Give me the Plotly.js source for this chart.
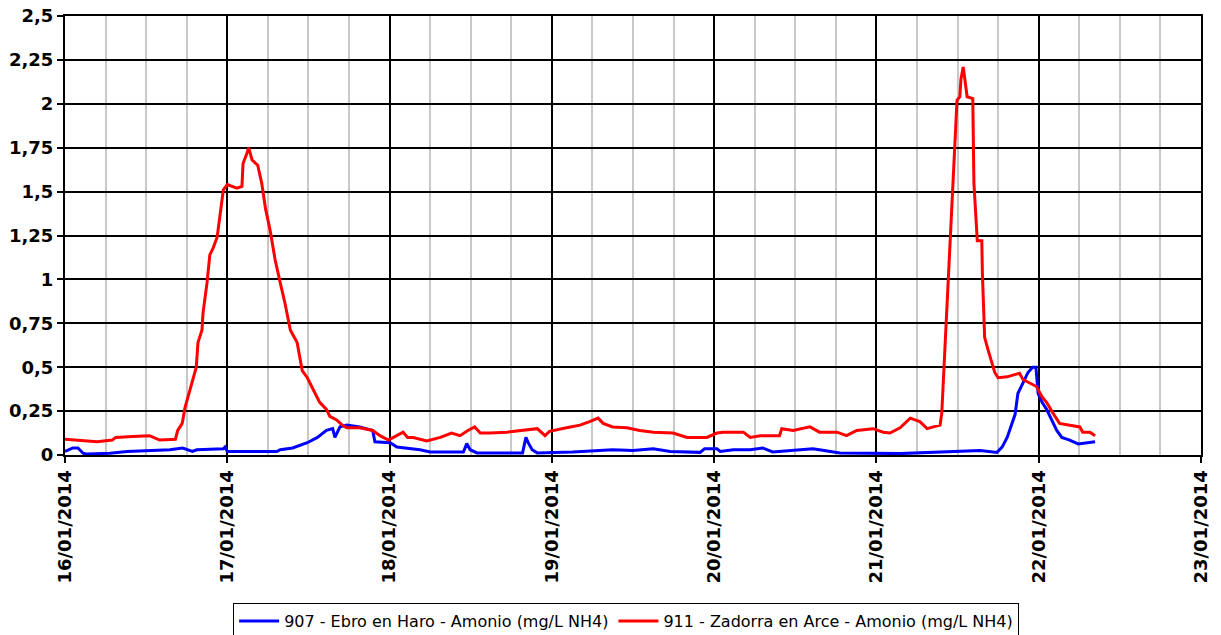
<!DOCTYPE html>
<html>
<head>
<meta charset="utf-8">
<script src="https://cdn.plot.ly/plotly-3.0.1.min.js"></script>
<style>html,body{margin:0;padding:0;background:#fff;}#chart{width:1221px;height:635px;}</style>
</head>
<body>
<div id="chart"></div>
<script>
// Series 907 - Ebro en Haro (blue)
const blueTimes = [
'2014-01-16 00:00','2014-01-16 01:10','2014-01-16 01:55','2014-01-16 02:40','2014-01-16 03:15','2014-01-16 06:40','2014-01-16 09:10','2014-01-16 15:30','2014-01-16 17:25','2014-01-16 18:50','2014-01-16 19:30','2014-01-16 23:25','2014-01-16 23:40','2014-01-17 00:00',
'2014-01-17 07:20','2014-01-17 07:50','2014-01-17 09:40','2014-01-17 11:50','2014-01-17 13:20','2014-01-17 14:40','2014-01-17 15:35','2014-01-17 15:55','2014-01-17 16:40','2014-01-17 17:40','2014-01-17 19:35','2014-01-17 21:30','2014-01-17 21:50',
'2014-01-18 00:05','2014-01-18 01:05','2014-01-18 02:35','2014-01-18 04:30','2014-01-18 06:00','2014-01-18 10:55','2014-01-18 11:25','2014-01-18 11:55','2014-01-18 12:55','2014-01-18 19:40','2014-01-18 20:10','2014-01-18 20:30','2014-01-18 21:05','2014-01-18 21:50',
'2014-01-19 03:05','2014-01-19 09:00','2014-01-19 12:00','2014-01-19 15:00','2014-01-19 17:30','2014-01-19 21:55','2014-01-19 22:35',
'2014-01-20 00:25','2014-01-20 00:55','2014-01-20 02:50','2014-01-20 05:20','2014-01-20 07:10','2014-01-20 08:40','2014-01-20 11:10','2014-01-20 14:35','2014-01-20 15:35','2014-01-20 18:35',
'2014-01-21 03:30','2014-01-21 15:20','2014-01-21 17:50','2014-01-21 18:35','2014-01-21 19:20','2014-01-21 20:00','2014-01-21 20:30','2014-01-21 20:55','2014-01-21 21:40','2014-01-21 22:25','2014-01-21 23:05','2014-01-21 23:35','2014-01-21 23:55',
'2014-01-22 00:30','2014-01-22 01:10','2014-01-22 01:55','2014-01-22 02:40','2014-01-22 03:25','2014-01-22 04:35','2014-01-22 05:50','2014-01-22 07:35','2014-01-22 08:20'
];
const blueValues = [
0.02,0.04,0.04,0.01,0.005,0.01,0.02,0.03,0.04,0.02,0.03,0.035,0.045,0.02,
0.02,0.03,0.04,0.07,0.10,0.14,0.15,0.10,0.16,0.17,0.16,0.14,0.075,
0.07,0.045,0.04,0.03,0.017,0.017,0.065,0.03,0.012,0.012,0.10,0.07,0.03,0.012,
0.017,0.03,0.025,0.035,0.02,0.015,0.035,
0.035,0.02,0.03,0.03,0.04,0.017,0.025,0.035,0.03,0.012,
0.008,0.025,0.015,0.045,0.10,0.18,0.23,0.35,0.41,0.47,0.50,0.50,0.35,
0.30,0.26,0.20,0.14,0.10,0.085,0.063,0.07,0.075
];
// Series 911 - Zadorra en Arce (red)
const redTimes = [
'2014-01-16 00:00','2014-01-16 04:45','2014-01-16 07:00','2014-01-16 07:30','2014-01-16 10:00','2014-01-16 12:30','2014-01-16 14:00','2014-01-16 16:20','2014-01-16 16:40','2014-01-16 17:20','2014-01-16 17:45','2014-01-16 18:30','2014-01-16 18:55','2014-01-16 19:25','2014-01-16 19:40','2014-01-16 20:15','2014-01-16 20:25','2014-01-16 21:00','2014-01-16 21:25','2014-01-16 21:55','2014-01-16 22:30','2014-01-16 22:55','2014-01-16 23:25',
'2014-01-17 00:00','2014-01-17 01:25','2014-01-17 02:10','2014-01-17 02:20','2014-01-17 02:55','2014-01-17 03:10','2014-01-17 03:40','2014-01-17 04:30','2014-01-17 05:05','2014-01-17 05:40','2014-01-17 06:20','2014-01-17 07:05','2014-01-17 07:50','2014-01-17 08:30','2014-01-17 09:20','2014-01-17 10:20','2014-01-17 11:05','2014-01-17 11:50','2014-01-17 13:00','2014-01-17 13:40','2014-01-17 14:40','2014-01-17 15:10','2014-01-17 16:10','2014-01-17 17:00','2014-01-17 17:40','2014-01-17 19:35','2014-01-17 21:30','2014-01-17 22:35','2014-01-17 23:50',
'2014-01-18 00:30','2014-01-18 01:05','2014-01-18 02:00','2014-01-18 02:40','2014-01-18 03:30','2014-01-18 05:30','2014-01-18 07:30','2014-01-18 09:10','2014-01-18 10:25','2014-01-18 11:35','2014-01-18 12:35','2014-01-18 13:25','2014-01-18 14:50','2014-01-18 17:25','2014-01-18 19:20','2014-01-18 21:50','2014-01-18 23:00','2014-01-18 23:40',
'2014-01-19 02:10','2014-01-19 04:10','2014-01-19 05:35','2014-01-19 06:50','2014-01-19 07:35','2014-01-19 09:00','2014-01-19 11:05','2014-01-19 13:00','2014-01-19 15:00','2014-01-19 17:55','2014-01-19 20:00','2014-01-19 22:55',
'2014-01-20 00:25','2014-01-20 01:20','2014-01-20 04:20','2014-01-20 05:20','2014-01-20 06:50','2014-01-20 09:40','2014-01-20 10:00','2014-01-20 11:40','2014-01-20 14:10','2014-01-20 15:35','2014-01-20 18:10','2014-01-20 19:35','2014-01-20 21:05','2014-01-20 23:30',
'2014-01-21 01:00','2014-01-21 02:00','2014-01-21 03:30','2014-01-21 05:00','2014-01-21 06:25','2014-01-21 07:30','2014-01-21 08:25','2014-01-21 09:25','2014-01-21 09:40','2014-01-21 09:50','2014-01-21 10:00','2014-01-21 10:35','2014-01-21 11:10','2014-01-21 11:20','2014-01-21 11:35','2014-01-21 11:55','2014-01-21 12:20','2014-01-21 12:30','2014-01-21 12:50','2014-01-21 13:05','2014-01-21 13:25','2014-01-21 14:15','2014-01-21 14:25','2014-01-21 14:55','2014-01-21 15:35','2014-01-21 15:40','2014-01-21 16:00','2014-01-21 16:30','2014-01-21 17:05','2014-01-21 17:30','2014-01-21 18:00','2014-01-21 19:20','2014-01-21 20:10','2014-01-21 21:10','2014-01-21 21:40','2014-01-21 22:40','2014-01-21 23:40',
'2014-01-22 00:30','2014-01-22 01:10','2014-01-22 02:05','2014-01-22 03:05','2014-01-22 04:35','2014-01-22 06:05','2014-01-22 06:30','2014-01-22 07:35','2014-01-22 08:20'
];
const redValues = [
0.09,0.075,0.085,0.10,0.105,0.11,0.085,0.09,0.14,0.18,0.27,0.37,0.44,0.50,0.64,0.71,0.81,0.98,1.14,1.18,1.24,1.36,1.51,
1.54,1.52,1.53,1.66,1.72,1.75,1.68,1.65,1.55,1.40,1.28,1.11,0.98,0.87,0.71,0.64,0.48,0.44,0.35,0.30,0.26,0.22,0.20,0.17,0.155,0.155,0.14,0.11,0.085,
0.10,0.11,0.13,0.10,0.10,0.08,0.10,0.125,0.11,0.14,0.16,0.125,0.125,0.13,0.14,0.15,0.11,0.135,
0.155,0.17,0.19,0.21,0.18,0.16,0.155,0.14,0.13,0.125,0.10,0.10,
0.125,0.13,0.13,0.10,0.11,0.11,0.15,0.14,0.16,0.13,0.13,0.11,0.14,0.15,
0.13,0.125,0.155,0.21,0.19,0.15,0.16,0.17,0.24,0.37,0.52,1.00,1.49,1.58,1.74,2.02,2.04,2.14,2.21,2.14,2.04,2.03,1.55,1.22,1.22,1.04,0.67,0.60,0.52,0.47,0.44,0.445,0.455,0.465,0.43,0.41,0.39,
0.33,0.30,0.24,0.18,0.17,0.16,0.13,0.13,0.11
];
const seriesNames = ['907 - Ebro en Haro - Amonio (mg/L NH4)', '911 - Zadorra en Arce - Amonio (mg/L NH4)'];
const xTickVals = ['2014-01-16','2014-01-17','2014-01-18','2014-01-19','2014-01-20','2014-01-21','2014-01-22','2014-01-23'];
const xTickText = ['16/01/2014','17/01/2014','18/01/2014','19/01/2014','20/01/2014','21/01/2014','22/01/2014','23/01/2014'];
// 6-hourly light grid positions
const xGridVals = [
'2014-01-16 06:00','2014-01-16 12:00','2014-01-16 18:00',
'2014-01-17 06:00','2014-01-17 12:00','2014-01-17 18:00',
'2014-01-18 06:00','2014-01-18 12:00','2014-01-18 18:00',
'2014-01-19 06:00','2014-01-19 12:00','2014-01-19 18:00',
'2014-01-20 06:00','2014-01-20 12:00','2014-01-20 18:00',
'2014-01-21 06:00','2014-01-21 12:00','2014-01-21 18:00',
'2014-01-22 06:00','2014-01-22 12:00','2014-01-22 18:00'
];
const yTickVals = [0,0.25,0.5,0.75,1,1.25,1.5,1.75,2,2.25,2.5];
const yTickText = ['0','0,25','0,5','0,75','1','1,25','1,5','1,75','2','2,25','2,5'];

const xRange = [xTickVals[0], xTickVals[xTickVals.length - 1]];
const tickFont = {family: 'DejaVu Sans', size: 18, color: '#000', weight: 'bold'};
const traces = [
  {x: blueTimes, y: blueValues, type: 'scatter', mode: 'lines', name: seriesNames[0], line: {color: '#0000ff', width: 3}},
  {x: redTimes, y: redValues, type: 'scatter', mode: 'lines', name: seriesNames[1], line: {color: '#ff0000', width: 3}},
  {x: [], y: [], type: 'scatter', mode: 'lines', xaxis: 'x2', yaxis: 'y', showlegend: false, hoverinfo: 'skip'}
];
const layout = {
  width: 1221, height: 635,
  margin: {l: 65, r: 20, t: 16, b: 180},
  paper_bgcolor: '#fff', plot_bgcolor: '#fff',
  showlegend: true,
  legend: {orientation: 'h', xref: 'paper', x: 0.148, xanchor: 'left',
    yref: 'container', y: 0.0504, yanchor: 'top',
    bordercolor: '#000', borderwidth: 1, bgcolor: '#fff',
    font: {family: 'DejaVu Sans', size: 16, color: '#000'}, itemwidth: 40, tracegroupgap: 0},
  // 6-hour light grid
  xaxis: {
    type: 'date', range: xRange,
    tickmode: 'array', tickvals: xGridVals,
    showticklabels: false, ticks: '',
    showgrid: true, gridcolor: '#c8c8c8', gridwidth: 2,
    showline: true, linecolor: '#000', linewidth: 2, mirror: true, zeroline: false, automargin: false
  },
  // day ticks, labels and dark grid
  xaxis2: {
    type: 'date', range: xRange, overlaying: 'x', anchor: 'y', side: 'bottom',
    tickmode: 'array', tickvals: xTickVals, ticktext: xTickText, tickangle: -90,
    tickfont: tickFont, ticks: 'outside', ticklen: 7, tickwidth: 2, tickcolor: '#000',
    showgrid: true, gridcolor: '#000', gridwidth: 2,
    showline: false, zeroline: false, automargin: false
  },
  yaxis: {
    range: [0, 2.5], tickmode: 'array', tickvals: yTickVals, ticktext: yTickText,
    tickfont: tickFont, ticks: 'outside', ticklen: 6, tickwidth: 2, tickcolor: '#000',
    showgrid: true, gridcolor: '#000', gridwidth: 2,
    showline: true, linecolor: '#000', linewidth: 2, mirror: true, zeroline: false, automargin: false
  }
};
Plotly.newPlot('chart', traces, layout, {staticPlot: true, displayModeBar: false});
</script>
</body>
</html>
